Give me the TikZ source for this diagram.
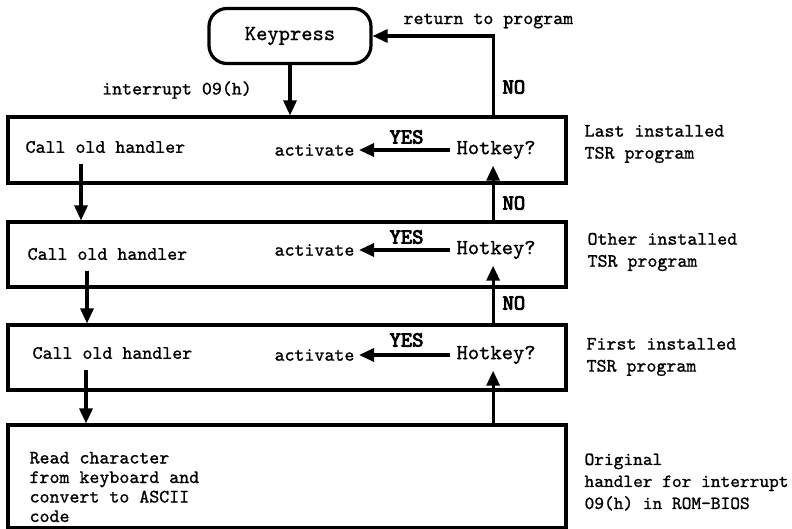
\documentclass[tikz,border=0pt]{standalone}
\usepackage{fontspec}
\usetikzlibrary{positioning, arrows.meta}
\newfontfamily\typer{lmmono10-regular.otf}[FakeBold=1]
\newfontfamily\heavy{lmmono10-regular.otf}[FakeBold=4]

\begin{document}
\begin{tikzpicture}[
    x=1pt, y=-1pt,
    >={Triangle[length=15pt, width=13pt]},
    line width=3.2pt,
    font=\typer\fontsize{19}{21}\selectfont,
    layer/.style={draw, minimum width=558pt, inner sep=0pt},
    start/.style={draw, rounded corners=18pt, minimum width=162pt,
        minimum height=55pt, font=\typer\fontsize{21.5}{24}\selectfont},
    txt/.style={inner sep=3pt, align=left},
    note/.style={inner sep=0pt, align=left, anchor=west},
    answer/.style={inner sep=0pt, anchor=west,
        font=\heavy\fontsize{21.5}{22}\selectfont},
    hot/.style={inner sep=5pt, anchor=west,
        font=\typer\fontsize{21.5}{24}\selectfont}
]

\useasboundingbox (0,0) rectangle (792,529);

\node[start] (kp) at (290,36) {Keypress};
\node[txt] (irq) at (177,90) {interrupt 09(h)};
\node[note] (ret) at (402,21) {return to program};

% the four handlers in the chain
\node[layer, minimum height=66pt] (b1) at (287,150) {};
\node[layer, minimum height=65pt] (b2) at (287,254.5) {};
\node[layer, minimum height=65pt] (b3) at (287,357.5) {};
\node[layer, minimum height=103pt] (b4) at (287,476.5) {};

\node[txt, anchor=west] (co1) at (21,147) {Call old handler};
\node[txt, anchor=east] (act1) at (359,150) {activate};
\node[hot] (hk1) at (450,150) {Hotkey?};
\node[answer] (yes1) at (388,137) {YES};

\node[txt, anchor=west] (co2) at (23,254) {Call old handler};
\node[txt, anchor=east] (act2) at (359,250) {activate};
\node[hot] (hk2) at (450,250) {Hotkey?};
\node[answer] (yes2) at (388,237) {YES};

\node[txt, anchor=west] (co3) at (28,353) {Call old handler};
\node[txt, anchor=east] (act3) at (359,355) {activate};
\node[hot] (hk3) at (450,355) {Hotkey?};
\node[answer] (yes3) at (388,340) {YES};

\node[txt, anchor=west, font=\typer\fontsize{19}{19.5}\selectfont]
    (rd) at (25,487) {Read character\\from keyboard and\\convert to ASCII\\code};

\node[answer] (no1) at (501,87) {NO};
\node[answer] (no2) at (501,203) {NO};
\node[answer] (no3) at (501,303) {NO};

\node[note, font=\typer\fontsize{19}{22}\selectfont] (lb1) at (583,144) {Last installed\\TSR program};
\node[note, font=\typer\fontsize{19}{22}\selectfont] (lb2) at (586,252) {Other installed\\TSR program};
\node[note, font=\typer\fontsize{19}{22}\selectfont] (lb3) at (585,357) {First installed\\TSR program};
\node[note, font=\typer\fontsize{18.5}{22}\selectfont] (lb4) at (583,482) {Original\\handler for interrupt\\09(h) in ROM-BIOS};

\draw[->] (kp.south) -- (kp.south |- b1.north);
\draw[->] ([xshift=-3pt]b1.north -| hk1) |- (kp.east);

\draw[->] (hk1.west) -- (act1.east);
\draw[->] (hk2.west) -- (act2.east);
\draw[->] (hk3.west) -- (act3.east);

\draw[->] ([xshift=-3pt]b2.north -| hk1) -- ([xshift=-3pt]hk1.south);
\draw[->] ([xshift=-3pt]b3.north -| hk2) -- ([xshift=-3pt]hk2.south);
\draw[->] ([xshift=-3pt]b4.north -| hk3) -- ([xshift=-3pt]hk3.south);

\draw[->] ([xshift=60pt, yshift=-6pt]co1.south west) -- ([xshift=60pt]co1.south west |- b2.north);
\draw[->] ([xshift=64pt, yshift=-6pt]co2.south west) -- ([xshift=64pt]co2.south west |- b3.north);
\draw[->] ([xshift=58pt, yshift=-6pt]co3.south west) -- ([xshift=58pt]co3.south west |- b4.north);

\end{tikzpicture}
\end{document}
